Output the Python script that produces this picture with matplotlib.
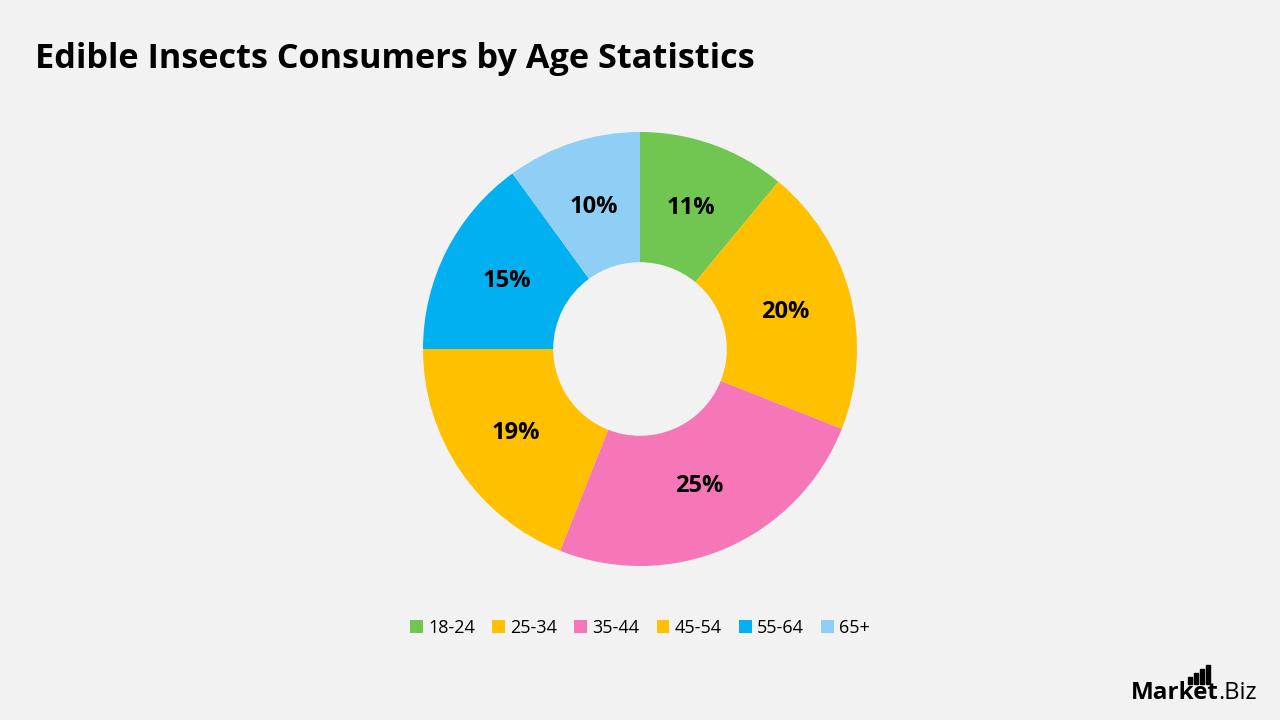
import matplotlib
matplotlib.use("Agg")
from matplotlib import pyplot as plt
from matplotlib.patches import Rectangle

plt.rcParams['font.family'] = ['Open Sans', 'DejaVu Sans']

age_groups = ['18-24', '25-34', '35-44', '45-54', '55-64', '65+']
shares = [11, 20, 25, 19, 15, 10]
colors = ['#70C650', '#FFC000', '#F577B8', '#FFC000', '#00B0F0', '#8FCFF5']

bg = '#F2F2F2'
fig = plt.figure(figsize=(12.8, 7.2), dpi=100, facecolor=bg)

# pie axes: center (640, 349) px, radius 217 px
r_px = 217
cx, cy = 640, 349
ax = fig.add_axes([(cx - r_px) / 1280, 1 - (cy + r_px) / 720, 2 * r_px / 1280, 2 * r_px / 720])
ax.set_facecolor(bg)

wedges, texts, autotexts = ax.pie(
    shares, colors=colors, startangle=90, counterclock=False,
    radius=1.0, wedgeprops=dict(width=0.6, linewidth=0),
    autopct='%d%%', pctdistance=0.69,
    textprops=dict(fontsize=17, fontweight='bold', color='black'))
ax.set_xlim(-1, 1)
ax.set_ylim(-1, 1)
ax.set_aspect('equal')
ax.axis('off')

fig.text(35 / 1280, 1 - 59 / 720, 'Edible Insects Consumers by Age Statistics',
         fontsize=24.7, fontweight='bold', va='center', ha='left', color='black')

leg = fig.legend(wedges, age_groups, loc='center', bbox_to_anchor=(0.5, 1 - 628 / 720),
                 ncol=6, frameon=False, fontsize=13, handlelength=0.7, handleheight=0.7,
                 handletextpad=0.3, columnspacing=0.95)

# logo
fig.text(1131 / 1280, 1 - 693 / 720, 'Market', fontsize=17.5, fontweight='bold',
         ha='left', va='center', color='black')
fig.text(1257 / 1280, 1 - 693 / 720, '.Biz', fontsize=17, ha='right', va='center', color='black')
for i, h in enumerate([7, 11, 15, 19]):
    fig.patches.append(Rectangle(((1188 + i * 6) / 1280, 1 - 684 / 720), 3.5 / 1280, h / 720,
                                 transform=fig.transFigure, color='black'))

fig.savefig('out.png', dpi=100, facecolor=bg)
